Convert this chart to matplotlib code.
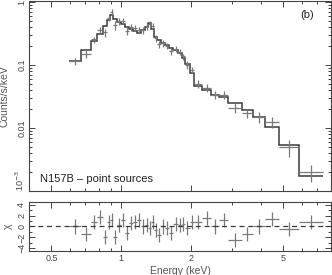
import numpy as np
import matplotlib.pyplot as plt
from matplotlib.ticker import LogLocator, NullFormatter, FixedLocator, MultipleLocator

plt.rcParams['font.family'] = ['Liberation Sans', 'DejaVu Sans']

# energy bin edges (keV)
edges = [0.595, 0.671, 0.742, 0.787, 0.836, 0.870, 0.896, 0.923, 0.961, 1.00,
         1.04, 1.083, 1.127, 1.173, 1.22, 1.27, 1.31, 1.35, 1.39, 1.43,
         1.49, 1.55, 1.61, 1.68, 1.75, 1.82, 1.89, 1.97, 2.05, 2.24,
         2.43, 2.63, 2.90, 3.31, 3.69, 4.16, 4.78, 5.84, 7.41]

# folded model (counts/s/keV)
model = [0.116, 0.173, 0.24, 0.31, 0.42, 0.52, 0.62, 0.54, 0.48, 0.45,
         0.40, 0.37, 0.35, 0.32, 0.36, 0.40, 0.46, 0.38, 0.28, 0.25,
         0.224, 0.21, 0.19, 0.173, 0.155, 0.129, 0.105, 0.076, 0.047, 0.040,
         0.034, 0.031, 0.025, 0.0194, 0.0150, 0.0105, 0.0053, 0.0017]

# observed counts and errors
counts = [0.116, 0.150, 0.255, 0.360, 0.330, 0.560, 0.690, 0.430, 0.497, 0.510,
          0.352, 0.397, 0.384, 0.366, 0.36, 0.414, 0.443, 0.416, 0.265, 0.215,
          0.224, 0.202, 0.170, 0.181, 0.161, 0.137, 0.101, 0.083, 0.050, 0.044,
          0.034, 0.034, 0.021, 0.0172, 0.0150, 0.0125, 0.0050, 0.0020]
count_err = [0.014, 0.021, 0.029, 0.037, 0.050, 0.062, 0.074, 0.065, 0.058, 0.054,
             0.048, 0.044, 0.042, 0.038, 0.043, 0.048, 0.055, 0.046, 0.034, 0.030,
             0.027, 0.025, 0.023, 0.021, 0.019, 0.015, 0.013, 0.009, 0.0070, 0.0060,
             0.0051, 0.0047, 0.0038, 0.0029, 0.0030, 0.0025, 0.0015, 0.0006]

# residuals (chi)
chi = [0.0, -1.4, 0.8, 1.7, -2.0, 0.8, 1.2, -2.0, 0.3, 1.2,
       -1.2, 0.6, 0.8, 1.2, 0.0, 0.3, -0.3, 0.8, -0.6, -1.5,
       0.0, -0.3, -1.2, 0.4, 0.3, 0.5, -0.3, 0.8, 0.8, 1.6,
       0.0, 1.2, -2.5, -1.4, 0.0, 1.4, -0.5, 0.8]

edges = np.array(edges)
centers = np.sqrt(edges[:-1] * edges[1:])
xerr = [centers - edges[:-1], edges[1:] - centers]

fig = plt.figure(figsize=(3.32, 2.75), dpi=100)
ax1 = fig.add_axes([0.0873, 0.3055, 0.9097, 0.6905])
ax2 = fig.add_axes([0.0873, 0.0873, 0.9097, 0.1782])

dcol = '#7a7a7a'
mcol = '#3a3a3a'
tcol = '#555555'

# top panel
ax1.errorbar(centers, counts, xerr=xerr, yerr=count_err, fmt='none',
             ecolor=dcol, elinewidth=0.9)
ax1.stairs(model, edges, color=mcol, linewidth=1.1, baseline=None)
ax1.set_xscale('log')
ax1.set_yscale('log')
ax1.set_xlim(0.4, 8.03)
ax1.set_ylim(1e-3, 1.037)
ax1.yaxis.set_major_locator(FixedLocator([1e-3, 0.01, 0.1, 1]))
ax1.set_yticklabels(['10$^{-3}$', '0.01', '0.1', '1'], rotation=90, va='center')
ax1.get_yticklabels()[0].set_va('bottom')
ax1.yaxis.set_minor_locator(LogLocator(base=10, subs=np.arange(2, 10)))
ax1.yaxis.set_minor_formatter(NullFormatter())
ax1.set_ylabel('Counts/s/keV', fontsize=7.5, color=tcol, labelpad=3)
ax1.text(0.036, 0.035, 'N157B \u2013 point sources', transform=ax1.transAxes,
         fontsize=8, va='bottom', ha='left', color='#222222')
ax1.text(0.92, 0.926, '(b)', transform=ax1.transAxes, fontsize=8,
         ha='center', va='center', color='#222222')

# residual panel
ax2.errorbar(centers, chi, xerr=xerr, yerr=1.3, fmt='none',
             ecolor=dcol, elinewidth=0.9)
ax2.axhline(0, color=mcol, linestyle='--', linewidth=0.9, dashes=(4, 3))
ax2.set_xscale('log')
ax2.set_xlim(0.4, 8.03)
ax2.set_ylim(-4.5, 4.5)
ax2.yaxis.set_major_locator(FixedLocator([-4, -2, 0, 2, 4]))
ax2.set_yticklabels(['\u22124', '\u22122', '0', '2', '4'], rotation=90, va='center')
ax2.yaxis.set_minor_locator(MultipleLocator(1))
ax2.set_ylabel('\u03c7', fontsize=7.5, color=tcol, labelpad=3)
ax2.set_xlabel('Energy (keV)', fontsize=7.5, color=tcol, labelpad=2)

for ax in (ax1, ax2):
    ax.xaxis.set_major_locator(FixedLocator([0.5, 1, 2, 5]))
    ax.xaxis.set_minor_locator(LogLocator(base=10, subs=np.arange(2, 10) / 1.0))
    ax.xaxis.set_minor_formatter(NullFormatter())
    ax.tick_params(which='both', direction='in', top=True, right=True,
                   colors='#444444', labelsize=6.5, width=0.7, pad=2)
    ax.tick_params(which='major', length=4)
    ax.tick_params(which='minor', length=2)
    for s in ax.spines.values():
        s.set_color('#444444')
        s.set_linewidth(0.8)

ax1.set_xticklabels([])
ax2.set_xticklabels(['0.5', '1', '2', '5'])

fig.savefig('out.png', dpi=100)
